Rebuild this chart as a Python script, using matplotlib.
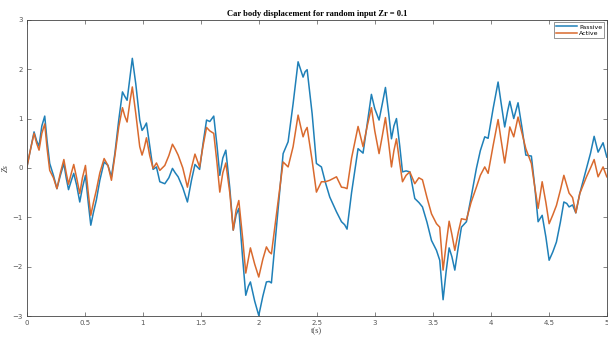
import matplotlib
matplotlib.use("Agg")
import matplotlib.pyplot as plt

# values (time in s, displacement)
t = [0.00, 0.03, 0.063, 0.085, 0.106, 0.13, 0.155, 0.175, 0.198, 0.23,
     0.26, 0.29, 0.32, 0.34, 0.36, 0.385, 0.405, 0.43, 0.457, 0.48,
     0.506, 0.53, 0.552, 0.575, 0.60, 0.63, 0.667, 0.70, 0.73, 0.76,
     0.793, 0.825, 0.845, 0.865, 0.89, 0.91, 0.94, 0.974, 0.994, 1.012,
     1.032, 1.06, 1.089, 1.118, 1.147, 1.19, 1.225, 1.256, 1.28, 1.305,
     1.345, 1.385, 1.42, 1.45, 1.49, 1.52, 1.55, 1.578, 1.612, 1.64,
     1.664, 1.69, 1.716, 1.75, 1.78, 1.805, 1.828, 1.86, 1.888, 1.91,
     1.928, 1.965, 2.00, 2.035, 2.066, 2.09, 2.109, 2.16, 2.21, 2.253,
     2.296, 2.339, 2.36, 2.382, 2.40, 2.417, 2.46, 2.497, 2.54, 2.575,
     2.612, 2.67, 2.713, 2.74, 2.761, 2.80, 2.856, 2.899, 2.935, 2.971,
     3.00, 3.037, 3.065, 3.092, 3.12, 3.144, 3.165, 3.187, 3.215, 3.239,
     3.27, 3.302, 3.345, 3.38, 3.411, 3.45, 3.489, 3.532, 3.56, 3.589,
     3.615, 3.641, 3.665, 3.69, 3.72, 3.747, 3.79, 3.83, 3.876, 3.91,
     3.948, 3.977, 4.02, 4.063, 4.09, 4.12, 4.145, 4.164, 4.198, 4.235,
     4.27, 4.302, 4.35, 4.38, 4.408, 4.443, 4.475, 4.503, 4.535, 4.566,
     4.60, 4.63, 4.655, 4.675, 4.705, 4.733, 4.767, 4.825, 4.86, 4.891,
     4.925, 4.968, 5.00]

passive = [0.00, 0.35, 0.73, 0.55, 0.44, 0.85, 1.05, 0.55, 0.09, -0.15,
           -0.42, -0.15, 0.09, -0.20, -0.44, -0.25, -0.11, -0.35, -0.69, -0.40,
           -0.15, -0.70, -1.16, -0.90, -0.65, -0.25, 0.12, 0.05, -0.18, 0.30,
           0.97, 1.54, 1.45, 1.37, 1.85, 2.22, 1.70, 0.97, 0.76, 0.82,
           0.91, 0.45, -0.03, 0.02, -0.28, -0.32, -0.20, -0.01, -0.10, -0.18,
           -0.40, -0.69, -0.25, 0.07, -0.03, 0.50, 0.97, 0.94, 1.05, 0.45,
           -0.15, 0.20, 0.36, -0.40, -1.26, -0.95, -0.82, -1.80, -2.58, -2.40,
           -2.31, -2.70, -2.99, -2.60, -2.31, -2.30, -2.33, -1.00, 0.29, 0.53,
           1.30, 2.15, 2.00, 1.84, 1.95, 1.99, 1.10, 0.09, 0.02, -0.30,
           -0.59, -0.89, -1.09, -1.15, -1.24, -0.50, 0.39, 0.30, 0.90, 1.49,
           1.20, 0.97, 1.30, 1.63, 1.10, 0.59, 0.85, 1.00, 0.45, -0.08,
           -0.06, -0.08, -0.62, -0.70, -0.79, -1.10, -1.47, -1.67, -1.87, -2.67,
           -2.10, -1.62, -1.80, -2.07, -1.60, -1.20, -1.09, -0.60, -0.01, 0.35,
           0.63, 0.60, 1.20, 1.74, 1.30, 0.83, 1.15, 1.35, 1.00, 1.32,
           0.80, 0.26, 0.24, -0.40, -1.09, -0.96, -1.40, -1.87, -1.70, -1.50,
           -1.10, -0.69, -0.72, -0.79, -0.75, -0.91, -0.52, -0.01, 0.30, 0.64,
           0.32, 0.51, 0.22]

active = [0.00, 0.35, 0.70, 0.50, 0.36, 0.70, 0.89, 0.40, -0.05, -0.20,
          -0.42, -0.10, 0.17, -0.10, -0.33, -0.10, 0.07, -0.20, -0.52, -0.20,
          0.05, -0.50, -0.96, -0.70, -0.45, -0.10, 0.19, 0.05, -0.25, 0.25,
          0.83, 1.22, 1.05, 0.93, 1.35, 1.64, 1.10, 0.43, 0.26, 0.40,
          0.61, 0.25, -0.01, 0.10, -0.05, 0.05, 0.25, 0.48, 0.38, 0.26,
          0.00, -0.39, 0.00, 0.28, 0.02, 0.45, 0.82, 0.75, 0.70, 0.10,
          -0.49, -0.10, 0.10, -0.50, -1.26, -0.85, -0.66, -1.40, -2.13, -1.85,
          -1.62, -1.95, -2.21, -1.85, -1.60, -1.70, -1.74, -0.80, 0.12, 0.02,
          0.43, 1.07, 0.85, 0.63, 0.75, 0.82, 0.15, -0.49, -0.28, -0.28,
          -0.25, -0.18, -0.39, -0.40, -0.42, 0.20, 0.84, 0.43, 0.85, 1.22,
          0.75, 0.29, 0.65, 1.02, 0.50, 0.02, 0.35, 0.59, 0.10, -0.28,
          -0.15, -0.08, -0.32, -0.20, -0.24, -0.60, -0.93, -1.13, -1.20, -2.07,
          -1.55, -1.08, -1.35, -1.67, -1.30, -1.03, -1.05, -0.70, -0.39, -0.15,
          0.02, -0.11, 0.45, 0.98, 0.55, 0.10, 0.50, 0.83, 0.63, 1.03,
          0.70, 0.39, 0.09, -0.40, -0.82, -0.28, -0.70, -1.13, -0.95, -0.76,
          -0.45, -0.15, -0.35, -0.51, -0.60, -0.91, -0.52, -0.18, 0.00, 0.17,
          -0.18, 0.02, -0.18]

xticks = [0, 0.5, 1, 1.5, 2, 2.5, 3, 3.5, 4, 4.5, 5]
xlabels = ['0', '0.5', '1', '1.5', '2', '2.5', '3', '3.5', '4', '4.5', '5']
yticks = [-3, -2, -1, 0, 1, 2, 3]

fig = plt.figure(figsize=(6.08, 3.42), dpi=100)
ax = fig.add_axes([0.044, 0.076, 0.954, 0.866])

ax.plot(t, passive, color='#1f80b8', lw=1.1, label='Passive', solid_joinstyle='round')
ax.plot(t, active, color='#d96a2e', lw=1.1, label='Active', solid_joinstyle='round')

ax.set_xlim(0, 5)
ax.set_ylim(-3, 3)
ax.set_xticks(xticks)
ax.set_xticklabels(xlabels)
ax.set_yticks(yticks)
ax.tick_params(direction='in', length=3, width=0.5, labelsize=5, colors='#555555',
               top=True, right=True, pad=3)
for s in ax.spines.values():
    s.set_linewidth(0.6)
    s.set_color('#444444')

ax.set_title('Car body displacement for random input Zr = 0.1', fontsize=6.1,
             fontweight='bold', family='Liberation Serif', pad=3)
ax.set_xlabel('t(s)', fontsize=6, family='Liberation Serif', color='#444444', labelpad=1)
ax.set_ylabel('Zs', fontsize=6, family='Liberation Serif', style='italic',
              color='#444444', labelpad=2)

leg = ax.legend(loc='upper right', fontsize=4.5, frameon=True, fancybox=False,
                handlelength=3.5, borderpad=0.3, labelspacing=0.2,
                handletextpad=0.3, borderaxespad=0.4)
leg.get_frame().set_linewidth(0.5)
leg.get_frame().set_edgecolor('#444444')

fig.savefig('out.png', dpi=100)
